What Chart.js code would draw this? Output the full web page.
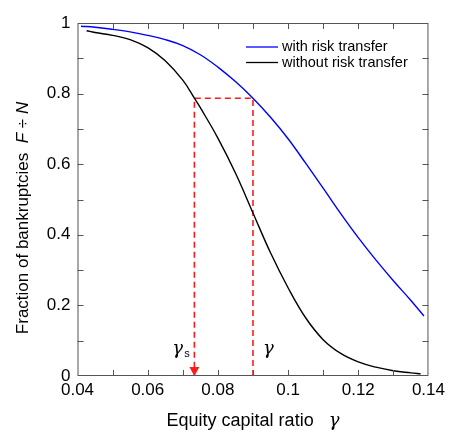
<!DOCTYPE html>
<html>
<head>
<meta charset="utf-8">
<script src="https://cdn.jsdelivr.net/npm/chart.js@4"></script>
<style>
  html,body{margin:0;padding:0;background:#fff;}
  #wrap{width:449px;height:433px;}
</style>
</head>
<body>
<div id="wrap"><canvas id="c" width="449" height="433"></canvas></div>
<script>

// with risk transfer (blue)
const withX = [0.041,0.045,0.05,0.055,0.06,0.065,0.07,0.075,0.08,0.085,0.09,0.095,0.10,0.105,0.11,0.115,0.12,0.125,0.13,0.135,0.1387];
const withY = [0.991,0.988,0.982,0.975,0.965,0.953,0.936,0.910,0.875,0.834,0.787,0.733,0.672,0.603,0.532,0.460,0.392,0.329,0.270,0.214,0.170];

// without risk transfer (black)
const withoutX = [0.0426,0.045,0.05,0.055,0.06,0.065,0.07,0.0733,0.075,0.08,0.085,0.09,0.095,0.10,0.105,0.11,0.115,0.12,0.125,0.13,0.135,0.1378];
const withoutY = [0.978,0.973,0.965,0.953,0.930,0.893,0.838,0.787,0.760,0.674,0.575,0.462,0.349,0.250,0.165,0.103,0.064,0.040,0.025,0.015,0.009,0.006];

// red dashed guide: gamma -> level -> gamma_s
const guideX = [0.09,0.09,0.0733,0.0733];
const guideY = [0,0.787,0.787,0];

const gammaS = 0.0733;
const gammaV = 0.09;

const xTicks = [0.04,0.06,0.08,0.1,0.12,0.14];
const yTicks = [0,0.2,0.4,0.6,0.8,1];

const legendLabels = ["with risk transfer","without risk transfer"];

function pts(xs,ys){
  return xs.map((x,i)=>({x:x,y:ys[i]}));
}

const FONT = "'Liberation Sans', Arial, sans-serif";

const framePlugin = {
  id:'frame',
  afterDatasetsDraw(chart){
    const ctx = chart.ctx;
    const a = chart.chartArea;
    const xs = chart.scales.x;
    const ys = chart.scales.y;
    ctx.save();

    // arrow head at gamma_s
    const ax = xs.getPixelForValue(gammaS);
    const ay = ys.getPixelForValue(0);
    ctx.fillStyle = '#ff1a1a';
    ctx.beginPath();
    ctx.moveTo(ax, ay);
    ctx.lineTo(ax-5, ay-9);
    ctx.lineTo(ax+5, ay-9);
    ctx.closePath();
    ctx.fill();

    // frame
    ctx.strokeStyle = '#555';
    ctx.lineWidth = 1;
    ctx.strokeRect(a.left+0.5, a.top+0.5, a.right-a.left-1, a.bottom-a.top-1);

    // inward ticks
    const tl = 6;
    ctx.beginPath();
    for(let v=0.05; v<0.1399; v+=0.01){
      const px = Math.round(xs.getPixelForValue(v))+0.5;
      ctx.moveTo(px, a.bottom); ctx.lineTo(px, a.bottom-tl);
      ctx.moveTo(px, a.top); ctx.lineTo(px, a.top+tl);
    }
    for(let v=0.1; v<0.999; v+=0.1){
      const py = Math.round(ys.getPixelForValue(v))+0.5;
      ctx.moveTo(a.left, py); ctx.lineTo(a.left+tl, py);
      ctx.moveTo(a.right, py); ctx.lineTo(a.right-tl, py);
    }
    ctx.stroke();

    // legend
    const lx = 246, ly = 47;
    const cols = ['#0000ff','#000000'];
    ctx.font = '14.5px ' + FONT;
    ctx.textBaseline = 'middle';
    ctx.textAlign = 'left';
    legendLabels.forEach((t,i)=>{
      const y = ly + i*15.5;
      ctx.strokeStyle = cols[i];
      ctx.lineWidth = 1.3;
      ctx.beginPath();
      ctx.moveTo(lx, y); ctx.lineTo(lx+32, y);
      ctx.stroke();
      ctx.fillStyle = '#000';
      ctx.fillText(t, lx+36, y);
    });

    // gamma labels
    ctx.fillStyle = '#000';
    ctx.font = 'italic 18px "DejaVu Serif", serif';
    ctx.textAlign = 'left';
    ctx.fillText('\u03B3', ax-22, 349);
    ctx.font = '11px ' + FONT;
    ctx.fillText('s', ax-10, 354);
    const gx = xs.getPixelForValue(gammaV);
    ctx.font = 'italic 18px "DejaVu Serif", serif';
    ctx.fillText('\u03B3', gx+10, 349);

    // axis titles
    const normal = '17px ' + FONT;
    const ital = 'italic 17px ' + FONT;
    const yParts = [['Fraction of bankruptcies  ',normal],['F',ital],[' \u00F7 ',normal],['N',ital]];
    drawRich(ctx, yParts, 23, 218, -Math.PI/2);

    const xParts = [['Equity capital ratio   ','18px ' + FONT],['\u03B3','italic 18px "DejaVu Serif", serif']];
    drawRich(ctx, xParts, (a.left+a.right)/2, 421, 0);

    ctx.restore();
  }
};

function drawRich(ctx, parts, cx, cy, rot){
  let w = 0;
  parts.forEach(p=>{ ctx.font = p[1]; w += ctx.measureText(p[0]).width; });
  ctx.save();
  ctx.translate(cx, cy);
  ctx.rotate(rot);
  ctx.textBaseline = 'middle';
  ctx.textAlign = 'left';
  ctx.fillStyle = '#000';
  let x = -w/2;
  parts.forEach(p=>{
    ctx.font = p[1];
    ctx.fillText(p[0], x, 0);
    x += ctx.measureText(p[0]).width;
  });
  ctx.restore();
}

new Chart(document.getElementById('c'),{
  type:'scatter',
  data:{
    datasets:[
      {
        data:pts(withX,withY),
        showLine:true,
        borderColor:'#0000ff',
        borderWidth:1.4,
        pointRadius:0,
        tension:0.4
      },
      {
        data:pts(withoutX,withoutY),
        showLine:true,
        borderColor:'#000000',
        borderWidth:1.4,
        pointRadius:0,
        tension:0.4
      },
      {
        data:pts(guideX,guideY),
        showLine:true,
        borderColor:'#ff1a1a',
        borderWidth:1.6,
        borderDash:[6,4],
        pointRadius:0,
        tension:0
      }
    ]
  },
  options:{
    responsive:false,
    animation:false,
    layout:{padding:{top:23,right:19,left:0,bottom:0}},
    plugins:{legend:{display:false},tooltip:{enabled:false}},
    scales:{
      x:{
        type:'linear',
        min:0.04,max:0.14,
        grid:{display:false,drawTicks:false},
        border:{display:false},
        afterBuildTicks(s){ s.ticks = xTicks.map(v=>({value:v})); },
        afterFit(s){ s.height = 57; },
        ticks:{
          padding:4,
          color:'#000',
          font:{family:FONT,size:17},
          callback:(v)=>String(+v.toFixed(2))
        }
      },
      y:{
        type:'linear',
        min:0,max:1,
        grid:{display:false,drawTicks:false},
        border:{display:false},
        afterBuildTicks(s){ s.ticks = yTicks.map(v=>({value:v})); },
        afterFit(s){ s.width = 77.5; },
        ticks:{
          padding:7,
          color:'#000',
          font:{family:FONT,size:17},
          callback:(v)=>String(+v.toFixed(1))
        }
      }
    }
  },
  plugins:[framePlugin]
});

</script>
</body>
</html>
